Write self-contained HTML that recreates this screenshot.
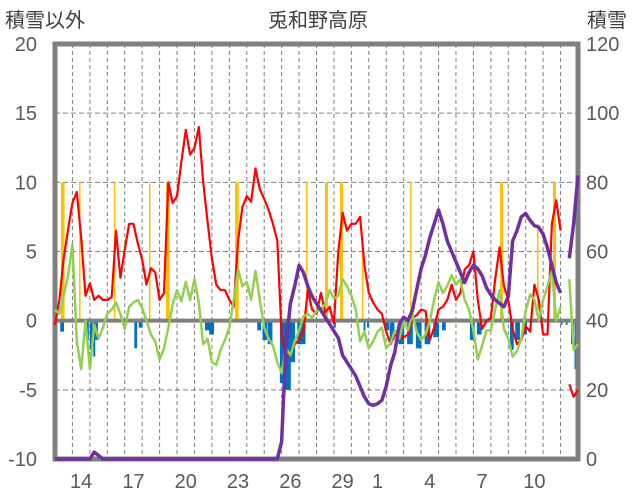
<!DOCTYPE html>
<html><head><meta charset="utf-8"><style>
html,body{margin:0;padding:0;background:#fff;}
svg{display:block;font-family:"Liberation Sans","Noto Sans CJK JP",sans-serif;}
</style></head><body>
<svg id="chart" width="636" height="501" viewBox="0 0 636 501" xmlns="http://www.w3.org/2000/svg">
<text x="318" y="27" text-anchor="middle" font-size="20" fill="#404040">兎和野高原</text>
<text x="5" y="27" font-size="20" fill="#404040">積雪以外</text>
<text x="587" y="27" font-size="20" fill="#404040">積雪</text>
<g id="grid"></g>
<g id="bars"></g>
<rect x="55" y="44" width="523" height="415" fill="none" stroke="#7f7f7f" stroke-width="5"/>
<g id="lines"></g>
<g id="ticks"></g>
</svg>
<script>
const leftTicks=[20,15,10,5,0,-5,-10];
const rightTicks=[120,100,80,60,40,20,0];
const dayLabels=["14","17","20","23","26","29","1","4","7","10"];
const dayLabelIdx=[1,4,7,10,13,16,18,21,24,27];
const nDays=30;
const step=0.25;
const redV=[-0.3,1.5,4.5,6.6,8.5,9.3,6,1.8,2.7,1.5,1.8,1.5,1.5,1.7,6.5,3.1,5.1,7,7,5.6,4.4,2.6,3.8,3.5,1.5,2,10,8.5,9,11.5,13.8,12,12.5,14,10,7.2,4.5,2.6,2.2,2.2,1.5,1,5.8,8.2,9,8.6,11,9.5,8.8,8,7,5.8,-1,-2.6,-2.5,-1.7,-1.4,-0.8,2.2,0.8,0.5,2,0.6,1,-0.2,5,7.8,6.5,7,7,7.5,4,2,1.3,0.8,0.5,-0.8,-1.7,-1,-1.3,-1.2,-1,0.2,0.4,0.8,0.7,-1.4,-0.5,0.8,1,1.5,2.6,1.5,2,3.7,4,5,1.5,-0.6,0,0.2,3,5.3,2.5,1.5,-0.6,-1.7,-1.4,-0.4,-0.8,2.6,1.5,-1,-1,7,8.7,6.5,null,-4.6,-5.5,-5];
const greenV=[0.8,0.5,1.8,3.3,5.5,-1.5,-3.5,0,-3.5,-0.3,-1.3,-0.5,0.5,0.8,1.3,0.5,-0.6,1,1.3,1.5,0.9,0,-1,-1.5,-2.8,-2,-0.5,1.2,2.2,1.4,2.8,1.5,3,1.3,-1.7,-1.3,-3,-3.2,-2.1,-1.4,-0.5,1.5,3.7,2.5,2.8,1.5,3.6,1.5,-0.5,-1.3,-1.8,-3,-3.8,-2,-2.5,-1.5,-0.7,0.3,0.5,0.2,0.7,0.8,1.2,2.2,1.6,1.8,3,2.5,1.8,0.8,-1.5,-0.8,-2,-1.5,-0.8,-0.5,-2,-1.6,-0.7,-1.3,0,-0.7,0.5,-0.8,-1.4,-1,0,1.5,2.8,2,2.5,3.3,2.6,3,1.5,0.8,-0.7,-2.8,-1.8,-0.7,-0.7,0.8,2.2,-0.6,-1.3,-2.6,-2.2,-1.3,0.7,1.9,1.5,0,1.5,2.5,3.6,0,1,null,3,-2.1,-1.7];
const snowV=[0,0,0,0,0,0,0,0,0,2,1,0,0,0,0,0,0,0,0,0,0,0,0,0,0,0,0,0,0,0,0,0,0,0,0,0,0,0,0,0,0,0,0,0,0,0,0,0,0,0,0,0,5,33,45,50,56,54,50,47,45,43,41,39,37,35,30,28,26,24,21,18,16,15.5,16,17,21,27,31,39,41,40,43,49,55,59,64,68,72,68,63,60,57,54,51,54,56,55,53,49.5,47.5,46,45,44,47,63,66,70,71,69,67.5,67,65,61,56,51,48,null,58,68,82];
const orangeT=[0.34,1.38,3.38,5.39,6.37,10.33,14.4,15.49,16.35,17.6,20.37,25.53,27.65,28.57];
const orangeV=[10,10,10,10,10,10,10,10,10,5,10,10,7,10];
const orangeH=[5,2,2,1,5,5,2,4,4,1,2,4,1,4];
const blueT=[0.3,1.78,2.0,2.2,2.3,4.55,4.8,8.6,8.85,11.6,11.9,12.2,12.9,13.2,13.5,13.9,14.1,16.0,17.7,17.9,18.9,19.2,19.7,20.2,20.7,21.2,21.7,22.2,23.8,24.2,26.1,26.4,26.8,29.0,29.3,29.6,29.8];
const blueV=[-0.8,-1.4,-2.1,-2.6,-1.4,-2,-0.5,-0.7,-1,-0.7,-1.4,-1.7,-4.5,-5,-3,-1.7,-1.7,-0.5,-0.7,-0.5,-0.7,-1.4,-1.7,-1.7,-2,-1.7,-1.2,-0.7,-1.4,-1,-2.1,-1.4,-1,-0.3,-0.3,-1.7,-3.5];
const blueH=[4,3,3,2,3,3,4,5,5,4,5,5,6,6,5,5,5,2,2,2,5,5,6,6,6,6,6,4,5,5,4,5,5,2,2,3,4];

const X0=55,X1=578,YT=44,YB=459,dayW=(X1-X0)/nDays;
const xT=t=>X0+t*dayW;
const yL=v=>YB-(v+10)/30*(YB-YT);
const yR=v=>YB-v/120*(YB-YT);
const NS="http://www.w3.org/2000/svg";
function mk(tag,attrs,parent){const e=document.createElementNS(NS,tag);for(const k in attrs)e.setAttribute(k,attrs[k]);parent.appendChild(e);return e;}
const grid=document.getElementById('grid'),bars=document.getElementById('bars'),lines=document.getElementById('lines'),ticks=document.getElementById('ticks');
for(let k=1;k<nDays;k++){const l=mk('line',{x1:xT(k),x2:xT(k),y1:YT,y2:YB,stroke:'#7f7f7f','stroke-width':1,'stroke-dasharray':'4,3'},grid);

}
leftTicks.forEach(v=>{if(v===20||v===-10||v===0)return;const l=mk('line',{x1:X0,x2:X1,y1:yL(v),y2:yL(v),stroke:'#7f7f7f','stroke-width':1,'stroke-dasharray':'5,3'},grid);

});
orangeT.forEach((t,i)=>{const w=Math.max(1.5,orangeH[i]/24*dayW);const r=mk('rect',{x:xT(t),y:yL(orangeV[i]),width:w,height:yL(0)-yL(orangeV[i]),fill:'#ffc000'},bars);

});
blueT.forEach((t,i)=>{const w=Math.max(1.5,blueH[i]/24*dayW*1.3);const r=mk('rect',{x:xT(t),y:yL(0),width:w,height:yL(blueV[i])-yL(0),fill:'#0070c0'},bars);

});
const zl=mk('line',{x1:X0,x2:X1,y1:yL(0),y2:yL(0),stroke:'#7f7f7f','stroke-width':4},bars);


function path(vals,yf){let d='',pen=false;vals.forEach((v,i)=>{if(v===null){pen=false;return;}d+=(pen?'L':'M')+xT(i*step).toFixed(1)+','+yf(v).toFixed(1);pen=true;});return d;}
const pr=mk('path',{d:path(redV,yL),fill:'none',stroke:'#ff0000','stroke-width':2.2,'stroke-linejoin':'round'},lines);


const pg=mk('path',{d:path(greenV,yL),fill:'none',stroke:'#92d050','stroke-width':2.5,'stroke-linejoin':'round'},lines);


const pp=mk('path',{d:path(snowV,yR),fill:'none',stroke:'#7030a0','stroke-width':3.5,'stroke-linejoin':'round'},lines);


leftTicks.forEach(v=>{const t=mk('text',{x:37,y:yL(v)+7,'text-anchor':'end','font-size':20,fill:'#595959'},ticks);t.textContent=v;

});
rightTicks.forEach(v=>{const t=mk('text',{x:586,y:yR(v)+7,'font-size':20,fill:'#595959'},ticks);t.textContent=v;

});
dayLabels.forEach((s,i)=>{const t=mk('text',{x:xT(dayLabelIdx[i]+0.5),y:488,'text-anchor':'middle','font-size':20,fill:'#595959'},ticks);t.textContent=s;

});
</script>
</body></html>
